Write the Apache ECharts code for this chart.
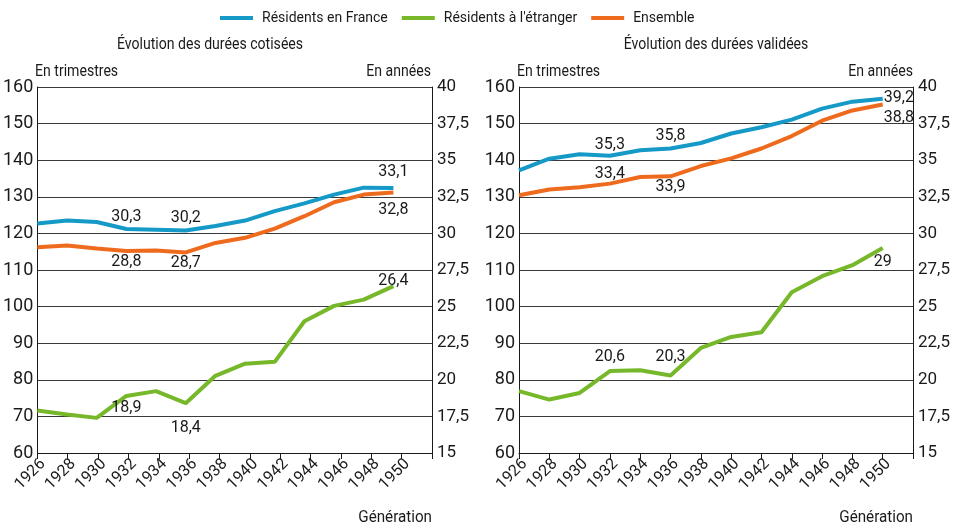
<!DOCTYPE html>
<html>
<head>
<meta charset="utf-8">
<script src="https://cdn.jsdelivr.net/npm/echarts@6/dist/echarts.min.js"></script>
<style>
  html, body { margin: 0; padding: 0; background: #fff; }
  #chart { width: 957px; height: 530px; }
</style>
</head>
<body>
<div id="chart"></div>
<script>
// Générations (tous les deux ans)
const generations = [1926, 1928, 1930, 1932, 1934, 1936, 1938, 1940, 1942, 1944, 1946, 1948, 1950];

// Durées cotisées, en trimestres
const cotiseesFrance   = [122.7, 123.5, 123.1, 121.2, 121.0, 120.8, 122.0, 123.5, 126.1, 128.2, 130.6, 132.5, 132.4];
const cotiseesEtranger = [71.6, 70.5, 69.6, 75.6, 76.9, 73.6, 81.1, 84.4, 84.9, 96.0, 100.2, 101.9, 105.6];
const cotiseesEnsemble = [116.2, 116.7, 115.9, 115.2, 115.3, 114.8, 117.4, 118.8, 121.3, 124.7, 128.5, 130.6, 131.2];

// Durées validées, en trimestres
const valideesFrance   = [137.2, 140.4, 141.6, 141.2, 142.7, 143.2, 144.7, 147.3, 149.0, 151.1, 154.1, 156.0, 156.8];
const valideesEtranger = [76.9, 74.6, 76.4, 82.4, 82.6, 81.2, 88.7, 91.7, 93.0, 103.9, 108.3, 111.3, 116.0];
const valideesEnsemble = [130.4, 132.0, 132.6, 133.6, 135.4, 135.6, 138.4, 140.5, 143.2, 146.6, 150.8, 153.6, 155.2];

// points annotés (en années) : 1932, 1936, 1950
const labelledIdx = [3, 5, 12];

const BLUE = '#1599c6', GREEN = '#77b82b', ORANGE = '#ee6b1e';
const TXT = 'Roboto, sans-serif';
const DARK = '#1a1a1a';

const chart = echarts.init(document.getElementById('chart'));

const yearsFmt = v => String(Math.round(v / 4 * 10) / 10).replace('.', ',');

function makeSeries(name, color, values, xIdx, yIdx, specs) {
  return {
    name, type: 'line', xAxisIndex: xIdx, yAxisIndex: yIdx,
    symbol: 'circle', symbolSize: 0.1, showSymbol: true, smooth: false,
    lineStyle: { color, width: 4 },
    itemStyle: { color },
    data: generations.map((g, i) => {
      const k = labelledIdx.indexOf(i);
      if (k < 0) return [g, values[i]];
      const s = specs[k];
      return {
        value: [g, values[i]],
        label: {
          show: true, position: s[0], distance: s[1], offset: s[2] || [0, 0],
          formatter: p => yearsFmt(p.value[1]),
          fontFamily: TXT, fontSize: 16, color: DARK
        }
      };
    })
  };
}

function xAxisFor(gridIndex) {
  return {
    type: 'value', gridIndex, min: 1926, max: 1952, interval: 2,
    axisLine: { lineStyle: { color: DARK, width: 1 } },
    axisTick: { show: true, length: 6, lineStyle: { color: DARK } },
    splitLine: { show: false },
    axisLabel: {
      rotate: 45, fontFamily: TXT, fontSize: 16, color: DARK, margin: 3,
      verticalAlign: 'top',
      formatter: v => (v === 1952 ? '' : String(v)), showMaxLabel: true
    }
  };
}

function quarterAxis(gridIndex) {
  return {
    type: 'value', gridIndex, min: 60, max: 160, interval: 10, position: 'left',
    axisLine: { show: true, lineStyle: { color: DARK } },
    axisTick: { show: false },
    splitLine: { show: true, lineStyle: { color: '#3a3a3a', width: 1 } },
    axisLabel: { fontFamily: TXT, fontSize: 18, color: DARK, margin: 4 }
  };
}

function yearAxis(gridIndex) {
  return {
    type: 'value', gridIndex, min: 15, max: 40, interval: 2.5, position: 'right',
    axisLine: { show: true, lineStyle: { color: DARK } },
    axisTick: { show: false },
    splitLine: { show: false },
    axisLabel: {
      fontFamily: TXT, fontSize: 17, color: DARK, margin: 5,
      formatter: v => String(v).replace('.', ',')
    }
  };
}

// textes libres, légèrement resserrés pour imiter la police étroite d'origine
function txt(text, x, y, align, squeeze) {
  return {
    type: 'text', x, y, scaleX: squeeze || 0.88,
    style: { text, fill: DARK, fontFamily: TXT, fontSize: 16, textAlign: align, textVerticalAlign: 'middle' }
  };
}

chart.setOption({
  animation: false,
  backgroundColor: '#fff',
  legend: {
    top: 6, left: 215, itemWidth: 33, itemHeight: 4, itemGap: 14, icon: 'rect',
    textStyle: { fontFamily: TXT, fontSize: 14, color: DARK, padding: [0, 0, 0, 4] },
    data: ['Résidents en France', "Résidents à l'étranger", 'Ensemble']
  },
  grid: [
    { left: 37, top: 87, width: 395, height: 366 },
    { left: 519, top: 87, width: 394, height: 366 }
  ],
  xAxis: [
    xAxisFor(0),
    { type: 'value', gridIndex: 0, min: 1926, max: 1952.6, show: false },
    xAxisFor(1)
  ],
  yAxis: [quarterAxis(0), yearAxis(0), quarterAxis(1), yearAxis(1)],
  series: [
    makeSeries('Résidents en France', BLUE, cotiseesFrance, 1, 0, [['top', 4], ['top', 4], ['top', 8]]),
    makeSeries("Résidents à l'étranger", GREEN, cotiseesEtranger, 1, 0, [['bottom', 4], ['bottom', 17], ['top', -3]]),
    makeSeries('Ensemble', ORANGE, cotiseesEnsemble, 1, 0, [['bottom', 3], ['bottom', 3], ['bottom', 10]]),
    makeSeries('Résidents en France', BLUE, valideesFrance, 2, 2, [['top', 3], ['top', 4], ['right', 1, [0, -1]]]),
    makeSeries("Résidents à l'étranger", GREEN, valideesEtranger, 2, 2, [['top', 6], ['top', 10], ['bottom', 6]]),
    makeSeries('Ensemble', ORANGE, valideesEnsemble, 2, 2, [['top', 2], ['bottom', 3], ['right', 1, [0, 13]]])
  ],
  graphic: [
    txt('Évolution des durées cotisées', 210, 45, 'center'),
    txt('Évolution des durées validées', 716, 45, 'center'),
    txt('En trimestres', 35, 72, 'left'),
    txt('En années', 431, 72, 'right'),
    txt('En trimestres', 517, 72, 'left'),
    txt('En années', 913, 72, 'right'),
    txt('Génération', 432, 518, 'right', 0.95),
    txt('Génération', 913, 518, 'right', 0.95)
  ]
});
</script>
</body>
</html>
